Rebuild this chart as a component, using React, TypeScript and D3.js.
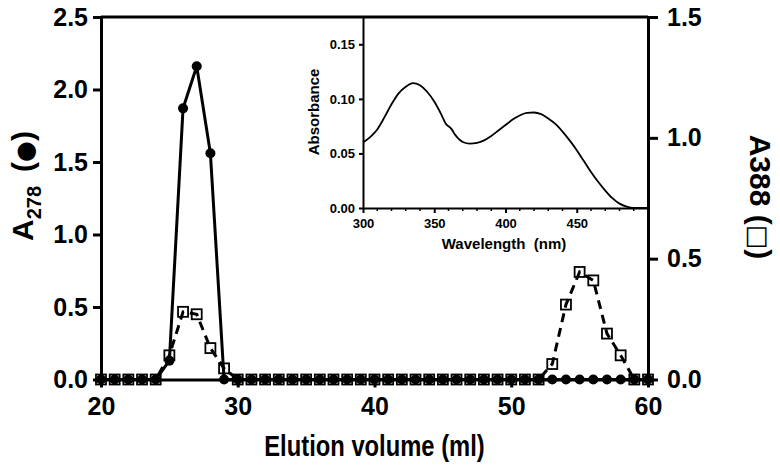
import React, { useEffect, useRef } from "react";
import * as d3 from "d3";

// elution profile, fractions of 1 ml
const volumes = [
  20, 21, 22, 23, 24, 25, 26, 27, 28, 29, 30, 31, 32, 33, 34, 35, 36, 37, 38, 39, 40,
  41, 42, 43, 44, 45, 46, 47, 48, 49, 50, 51, 52, 53, 54, 55, 56, 57, 58, 59, 60,
];
const a278 = [
  0, 0, 0, 0, 0, 0.13, 1.87, 2.16, 1.56, 0, 0, 0, 0, 0, 0, 0, 0, 0, 0, 0, 0,
  0, 0, 0, 0, 0, 0, 0, 0, 0, 0, 0, 0, 0, 0, 0, 0, 0, 0, 0, 0,
];
const a388 = [
  0, 0, 0, 0, 0, 0.1, 0.28, 0.27, 0.13, 0.046, 0, 0, 0, 0, 0, 0, 0, 0, 0, 0, 0,
  0, 0, 0, 0, 0, 0, 0, 0, 0, 0, 0, 0, 0.064, 0.31, 0.445, 0.41, 0.19, 0.1, 0, 0,
];
const xTicks = [20, 30, 40, 50, 60];
const leftTicks = [0, 0.5, 1.0, 1.5, 2.0, 2.5];
const rightTicks = [0, 0.5, 1.0, 1.5];

// inset: absorption spectrum
const wavelengths = [
  300, 305, 310, 315, 320, 325, 330, 335, 340, 345, 350, 355, 358, 362, 365, 370, 375,
  380, 385, 390, 395, 400, 405, 410, 415, 420, 425, 430, 435, 440, 445, 450, 455, 460,
  465, 470, 475, 480, 485, 490, 500,
];
const absorbance = [
  0.06, 0.065, 0.072, 0.083, 0.095, 0.105, 0.111, 0.1145, 0.1125, 0.1065, 0.0975, 0.0855,
  0.0775, 0.0725, 0.0665, 0.0605, 0.059, 0.0597, 0.062, 0.066, 0.071, 0.076, 0.081, 0.0848,
  0.0872, 0.0875, 0.086, 0.082, 0.077, 0.07, 0.062, 0.053, 0.043, 0.033, 0.024, 0.016,
  0.009, 0.004, 0.0012, 0, 0,
];
const insetXTicks = [300, 350, 400, 450];
const insetYTicks = [0, 0.05, 0.1, 0.15];

const font = "Arial, 'Liberation Sans', Helvetica, sans-serif";

const App = () => {
  const svgRef = useRef<SVGSVGElement>(null);

  useEffect(() => {
    const svg = d3.select(svgRef.current);
    svg.selectAll("*").remove();

    const width = 780;
    const height = 476;
    svg.attr("width", width).attr("height", height);

    svg.append("rect").attr("width", width).attr("height", height).attr("fill", "#fff");

    const x = d3.scaleLinear().domain([20, 60]).range([101, 648]);
    const yL = d3.scaleLinear().domain([0, 2.5]).range([379.5, 17]);
    const yR = d3.scaleLinear().domain([0, 1.5]).range([379.5, 17]);

    const styleAxis = (g, size, lw) => {
      g.select(".domain").attr("stroke", "#000").attr("stroke-width", lw);
      g.selectAll(".tick line").attr("stroke", "#000").attr("stroke-width", lw);
      g.selectAll(".tick text")
        .attr("fill", "#000")
        .style("font-family", font)
        .style("font-weight", "bold")
        .style("font-size", size + "px");
    };

    // main axes
    const gx = svg
      .append("g")
      .attr("transform", `translate(0,${yL(0)})`)
      .call(
        d3.axisBottom(x).tickValues(xTicks).tickSize(8).tickSizeOuter(0).tickPadding(10)
      );
    styleAxis(gx, 25, 3);

    const gl = svg
      .append("g")
      .attr("transform", `translate(${x(20)},0)`)
      .call(
        d3
          .axisLeft(yL)
          .tickValues(leftTicks)
          .tickFormat(d3.format(".1f"))
          .tickSize(8)
          .tickSizeOuter(0)
          .tickPadding(5)
      );
    styleAxis(gl, 25, 3);

    const gr = svg
      .append("g")
      .attr("transform", `translate(${x(60)},0)`)
      .call(
        d3
          .axisRight(yR)
          .tickValues(rightTicks)
          .tickFormat(d3.format(".1f"))
          .tickSize(10)
          .tickSizeOuter(0)
          .tickPadding(9)
      );
    styleAxis(gr, 25, 3);

    svg
      .append("line")
      .attr("x1", x(20))
      .attr("x2", x(60))
      .attr("y1", yL(2.5))
      .attr("y2", yL(2.5))
      .attr("stroke", "#000")
      .attr("stroke-width", 3);

    // axis titles (the original lettering is a bit condensed)
    svg
      .append("text")
      .attr("transform", `translate(${(x(20) + x(60)) / 2},456) scale(0.82,1)`)
      .attr("text-anchor", "middle")
      .style("font-family", font)
      .style("font-weight", "bold")
      .style("font-size", "29px")
      .text("Elution volume (ml)");

    const lt = svg
      .append("text")
      .attr("transform", "translate(33,186) rotate(-90)")
      .attr("text-anchor", "middle")
      .style("font-family", font)
      .style("font-weight", "bold")
      .style("font-size", "30px");
    lt.append("tspan").text("A");
    lt.append("tspan").attr("dy", 8).style("font-size", "20px").text("278");
    lt.append("tspan").attr("dy", -8).attr("dx", 14).text("(");
    lt.append("tspan").style("font-family", "'DejaVu Sans'").style("font-size", "24px").text("●");
    lt.append("tspan").text(")");

    const rt = svg
      .append("text")
      .attr("transform", "translate(750,197) rotate(90)")
      .attr("text-anchor", "middle")
      .style("font-family", font)
      .style("font-weight", "bold")
      .style("font-size", "30px");
    rt.append("tspan").text("A388 (");
    rt.append("tspan").style("font-family", "'DejaVu Sans'").style("font-size", "26px").text("□");
    rt.append("tspan").text(")");

    // inset spectrum
    const xi = d3.scaleLinear().domain([300, 500]).range([363, 648]);
    const yi = d3.scaleLinear().domain([0, 0.175]).range([208, 17]);

    const gix = svg
      .append("g")
      .attr("transform", `translate(0,${yi(0)})`)
      .call(
        d3.axisBottom(xi).tickValues(insetXTicks).tickSize(5).tickSizeOuter(0).tickPadding(6)
      );
    styleAxis(gix, 13, 2);
    gix
      .selectAll(".minor")
      .data(d3.range(310, 500, 10).filter((d) => d % 50 !== 0))
      .enter()
      .append("line")
      .attr("x1", (d) => xi(d))
      .attr("x2", (d) => xi(d))
      .attr("y1", 0)
      .attr("y2", 3)
      .attr("stroke", "#000")
      .attr("stroke-width", 1.5);

    const giy = svg
      .append("g")
      .attr("transform", `translate(${xi(300)},0)`)
      .call(
        d3
          .axisLeft(yi)
          .tickValues(insetYTicks)
          .tickFormat(d3.format(".2f"))
          .tickSize(4)
          .tickSizeOuter(0)
          .tickPadding(4)
      );
    styleAxis(giy, 13, 2);

    svg
      .append("text")
      .attr("x", 504)
      .attr("y", 249)
      .attr("text-anchor", "middle")
      .style("font-family", font)
      .style("font-weight", "bold")
      .style("font-size", "15px")
      .style("white-space", "pre")
      .text("Wavelength  (nm)");

    svg
      .append("text")
      .attr("transform", "translate(319,112) rotate(-90)")
      .attr("text-anchor", "middle")
      .style("font-family", font)
      .style("font-weight", "bold")
      .style("font-size", "15px")
      .text("Absorbance");

    svg
      .append("path")
      .datum(wavelengths.map((w, i) => [w, absorbance[i]]))
      .attr("fill", "none")
      .attr("stroke", "#000")
      .attr("stroke-width", 1.8)
      .attr(
        "d",
        d3
          .line()
          .x((d) => xi(d[0]))
          .y((d) => yi(d[1]))
          .curve(d3.curveMonotoneX)
      );

    // A278 series: filled circles, solid line
    const pts278 = volumes.map((v, i) => [v, a278[i]]);
    svg
      .append("path")
      .datum(pts278)
      .attr("fill", "none")
      .attr("stroke", "#000")
      .attr("stroke-width", 3)
      .attr(
        "d",
        d3
          .line()
          .x((d) => x(d[0]))
          .y((d) => yL(d[1]))
      );
    svg
      .selectAll(".c278")
      .data(pts278)
      .enter()
      .append("circle")
      .attr("cx", (d) => x(d[0]))
      .attr("cy", (d) => yL(d[1]))
      .attr("r", 5)
      .attr("fill", "#000");

    // A388 series: open squares, dashed line
    const pts388 = volumes.map((v, i) => [v, a388[i]]);
    svg
      .append("path")
      .datum(pts388)
      .attr("fill", "none")
      .attr("stroke", "#000")
      .attr("stroke-width", 3)
      .attr("stroke-dasharray", "9,6")
      .attr(
        "d",
        d3
          .line()
          .x((d) => x(d[0]))
          .y((d) => yR(d[1]))
      );
    const sq = 10;
    svg
      .selectAll(".s388")
      .data(pts388)
      .enter()
      .append("rect")
      .attr("x", (d) => x(d[0]) - sq / 2)
      .attr("y", (d) => yR(d[1]) - sq / 2)
      .attr("width", sq)
      .attr("height", sq)
      .attr("fill", "none")
      .attr("stroke", "#000")
      .attr("stroke-width", 1.8);
  }, []);

  return (
    <svg
      ref={svgRef}
      style={{ position: "absolute", left: 0, top: 0, display: "block" }}
    ></svg>
  );
};

export default App;
